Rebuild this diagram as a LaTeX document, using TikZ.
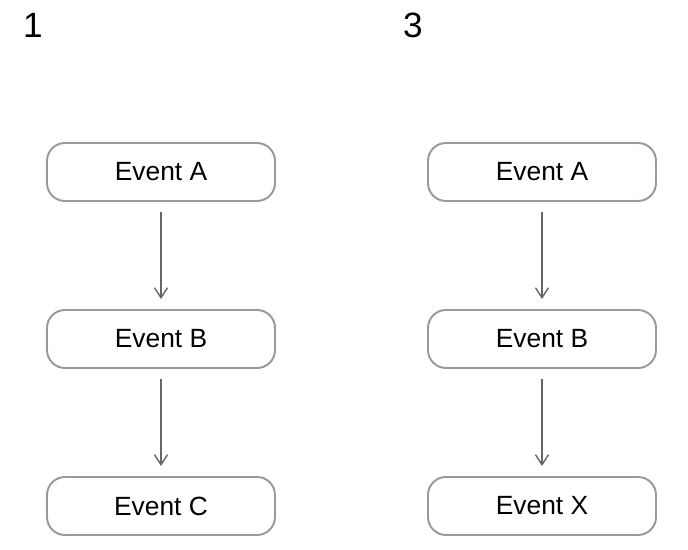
\documentclass[tikz,border=0pt]{standalone}
\usepackage{fontspec}
\setmainfont{Liberation Sans}
\usepackage{xcolor}
\usetikzlibrary{arrows.meta,positioning}

\definecolor{boxline}{HTML}{999999}
\definecolor{arrline}{HTML}{666666}

\begin{document}
\begin{tikzpicture}[
  font=\fontsize{15pt}{18pt}\selectfont,
  evbox/.style={draw=boxline, line width=1.1pt, rounded corners=0.36cm, fill=white,
    minimum width=4.56cm, minimum height=1.16cm, inner sep=2pt, outer sep=0pt},
  arr/.style={-{Straight Barb[length=2mm,width=2.6mm]}, draw=arrline, line width=0.8pt, shorten <=0.22cm, shorten >=0.22cm},
  tag/.style={font=\fontsize{20pt}{24pt}\selectfont, inner sep=0pt}
]
\fill[white] (0,0) rectangle (13.76,-11);
\useasboundingbox (0,0) rectangle (13.76,-11);

% first sequence
\node[evbox] (a1) at (3.22,-3.44) {Event A};
\node[evbox, below=2.18cm of a1] (b1) {Event B};
\node[evbox, below=2.18cm of b1] (c1) {Event C};
\draw[arr] (a1) -- (b1);
\draw[arr] (b1) -- (c1);

% second sequence
\node[evbox, right=3.06cm of a1] (a3) {Event A};
\node[evbox, below=2.18cm of a3] (b3) {Event B};
\node[evbox, below=2.18cm of b3] (x3) {Event X};
\draw[arr] (a3) -- (b3);
\draw[arr] (b3) -- (x3);

\node[tag] (n1) at (0.66,-0.5) {1};
\node[tag] (n3) at (8.26,-0.5) {3};
\end{tikzpicture}
\end{document}
